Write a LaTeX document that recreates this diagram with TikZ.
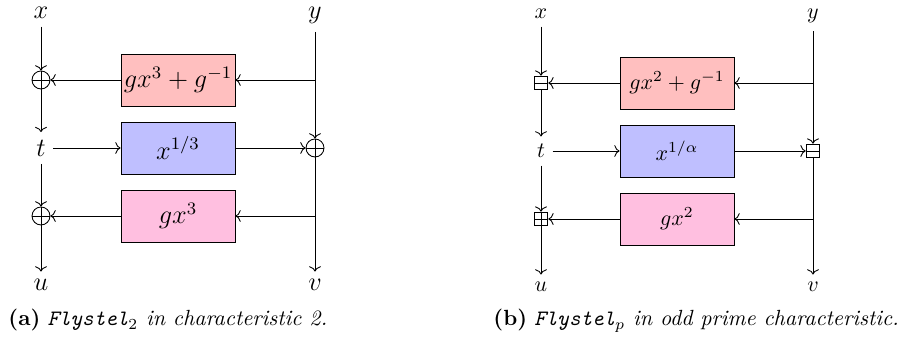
\documentclass[tikz,border=0pt]{standalone}
\usetikzlibrary{arrows.meta,positioning}
\definecolor{boxpink}{RGB}{255,191,224}
\tikzset{
  fbox/.style={draw,minimum width=1.824cm,minimum height=0.832cm,inner sep=0pt},
  xorop/.style={draw,circle,minimum size=0.288cm,inner sep=0pt,
    path picture={\draw (path picture bounding box.north) -- (path picture bounding box.south)
      (path picture bounding box.west) -- (path picture bounding box.east);}},
  subop/.style={draw,rectangle,minimum size=0.22cm,inner sep=0pt,
    path picture={\draw (path picture bounding box.west) -- (path picture bounding box.east);}},
  addop/.style={draw,rectangle,minimum size=0.22cm,inner sep=0pt,
    path picture={\draw (path picture bounding box.north) -- (path picture bounding box.south)
      (path picture bounding box.west) -- (path picture bounding box.east);}},
}

\begin{document}
\begin{tikzpicture}[x=0.016cm,y=-0.016cm,>={To[length=2.4pt,width=5.4pt]}]
    \useasboundingbox (0,0) rectangle (905,346);
    % characteristic 2
    \begin{scope}[font=\large]
    \node [anchor=base] (x1) at (41,19) {$x$};
    \node [anchor=base] (y1) at (315,19) {$y$};
    \node [xorop] (o1) at (41,80) {};
    \node [fbox,fill=red!25] (f1) at (178,80) {$gx^3+g^{-1}$};
    \node (t1) at (41,148) {$t$};
    \node [fbox,fill=blue!25] (f2) at (178,148) {$x^{1/3}$};
    \node [xorop] (o2) at (315,148) {};
    \node [xorop] (o3) at (41,216) {};
    \node [fbox,fill=boxpink] (f3) at (178,216) {$gx^3$};
    \coordinate (b1) at (315,80);
    \coordinate (b2) at (315,216);
    \node (u1) at (41,285) {$u$};
    \node (v1) at (315,285) {$v$};
    \draw [->] (x1) -- (o1);
    \draw [->] (y1) -- (o2);
    \draw [->] (b1) -- (f1.east);
    \draw [->] (f1.west) -- (o1);
    \draw [->] (o1) -- (t1);
    \draw [->] (t1) -- (f2.west);
    \draw [->] (f2.east) -- (o2);
    \draw [->] (t1) -- (o3);
    \draw [->] (b2) -- (f3.east);
    \draw [->] (f3.west) -- (o3);
    \draw [->] (o3) -- (u1);
    \draw [->] (o2) -- (v1);
    \end{scope}
    % odd prime characteristic
    \node [anchor=base] (x2) at (541,19) {$x$};
    \node [anchor=base] (y2) at (813,19) {$y$};
    \node [subop] (s1) at (541,83) {};
    \node [fbox,fill=red!25] (g1) at (677,83) {$gx^2+g^{-1}$};
    \node (t2) at (541,151) {$t$};
    \node [fbox,fill=blue!25] (g2) at (677,151) {$x^{1/\alpha}$};
    \node [subop] (s2) at (813,151) {};
    \node [addop] (s3) at (541,219) {};
    \node [fbox,fill=boxpink] (g3) at (677,219) {$gx^2$};
    \coordinate (c1) at (813,83);
    \coordinate (c2) at (813,219);
    \node (u2) at (541,287) {$u$};
    \node (v2) at (813,287) {$v$};
    \draw [->] (x2) -- (s1);
    \draw [->] (y2) -- (s2);
    \draw [->] (c1) -- (g1.east);
    \draw [->] (g1.west) -- (s1);
    \draw [->] (s1) -- (t2);
    \draw [->] (t2) -- (g2.west);
    \draw [->] (g2.east) -- (s2);
    \draw [->] (t2) -- (s3);
    \draw [->] (c2) -- (g3.east);
    \draw [->] (g3.west) -- (s3);
    \draw [->] (s3) -- (u2);
    \draw [->] (s2) -- (v2);
    % captions
    \node [anchor=base west,inner sep=0pt] (capa) at (8,326) {\textbf{(a)} \textit{\texttt{Flystel}$_2$ in characteristic 2.}};
    \node [anchor=base west,inner sep=0pt] (capb) at (493,326) {\textbf{(b)} \textit{\texttt{Flystel}$_p$ in odd prime characteristic.}};
\end{tikzpicture}
\end{document}
